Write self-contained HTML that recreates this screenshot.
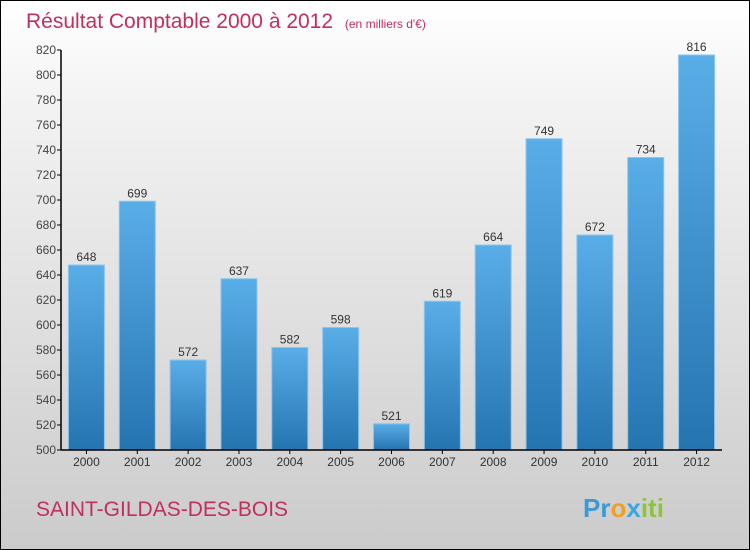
<!DOCTYPE html>
<html><head><meta charset="utf-8"><style>
body{margin:0}
#wrap{position:relative;width:748px;height:548px;border:1px solid #000;background:linear-gradient(#fff,#f2f2f2 20%,#cbcbcb);font-family:"Liberation Sans",sans-serif;overflow:hidden}
</style></head><body>
<div id="wrap">
<svg width="748" height="548">
<defs>
<linearGradient id="bg" x1="0" y1="0" x2="0" y2="1"><stop offset="0" stop-color="#5aaee8"/><stop offset="1" stop-color="#2474b0"/></linearGradient>
</defs>
<text x="25" y="27" font-size="21" fill="#c0305c">Résultat Comptable 2000 à 2012 <tspan font-size="12" dx="6">(en milliers d'€)</tspan></text>
<g id="plot"></g>
<text x="35" y="515" font-size="21" fill="#c0305c">SAINT-GILDAS-DES-BOIS</text>
<text x="582" y="516" font-size="26" font-weight="bold" fill="#3a9ad8"><tspan fill="#3a9ad8">Pr</tspan><tspan fill="#f0a020">o</tspan><tspan fill="#3aa8e0">x</tspan><tspan fill="#8cc43c">iti</tspan></text>
</svg></div>
<script>
const categories=["2000","2001","2002","2003","2004","2005","2006","2007","2008","2009","2010","2011","2012"];
const values=[648,699,572,637,582,598,521,619,664,749,672,734,816];
const ticks=[500,520,540,560,580,600,620,640,660,680,700,720,740,760,780,800,820];
const NS="http://www.w3.org/2000/svg";
const g=document.getElementById("plot");
const x0=60,x1=721,yB=449,yT=49,vMin=500,vMax=820;
const y=v=>yB-(v-vMin)*(yB-yT)/(vMax-vMin);
const bw=(x1-x0)/categories.length;
function mk(t,a){const e=document.createElementNS(NS,t);for(const k in a)e.setAttribute(k,a[k]);g.appendChild(e);return e;}
categories.forEach((c,i)=>{
 const cx=x0+bw*(i+0.5),v=values[i];
 const r=mk("rect",{x:cx-18,y:y(v),width:36,height:yB-y(v),fill:"url(#bg)",stroke:"#8cc4ee","stroke-width":1});
 
 
 const t=mk("text",{x:cx,y:y(v)-4,"font-size":12,"text-anchor":"middle",fill:"#333"});t.textContent=v;
 
 
 const l=mk("text",{x:cx,y:yB+16,"font-size":12,"text-anchor":"middle",fill:"#333"});l.textContent=c;
 
 
 const tk=mk("line",{x1:cx,x2:cx,y1:yB,y2:yB+4,stroke:"#000"});
 
 
});
ticks.forEach(v=>{
 const tk=mk("line",{x1:x0-4,x2:x0,y1:y(v),y2:y(v),stroke:"#000"});
 
 
 const t=mk("text",{x:x0-5,y:y(v)+4,"font-size":12,"text-anchor":"end",fill:"#444"});t.textContent=v;
 
 
});
const ya=mk("line",{x1:x0,x2:x0,y1:yT,y2:yB,stroke:"#000","stroke-width":1.5});


const xa=mk("line",{x1:x0,x2:x1,y1:yB,y2:yB,stroke:"#000","stroke-width":1.5});


</script>
</body></html>
